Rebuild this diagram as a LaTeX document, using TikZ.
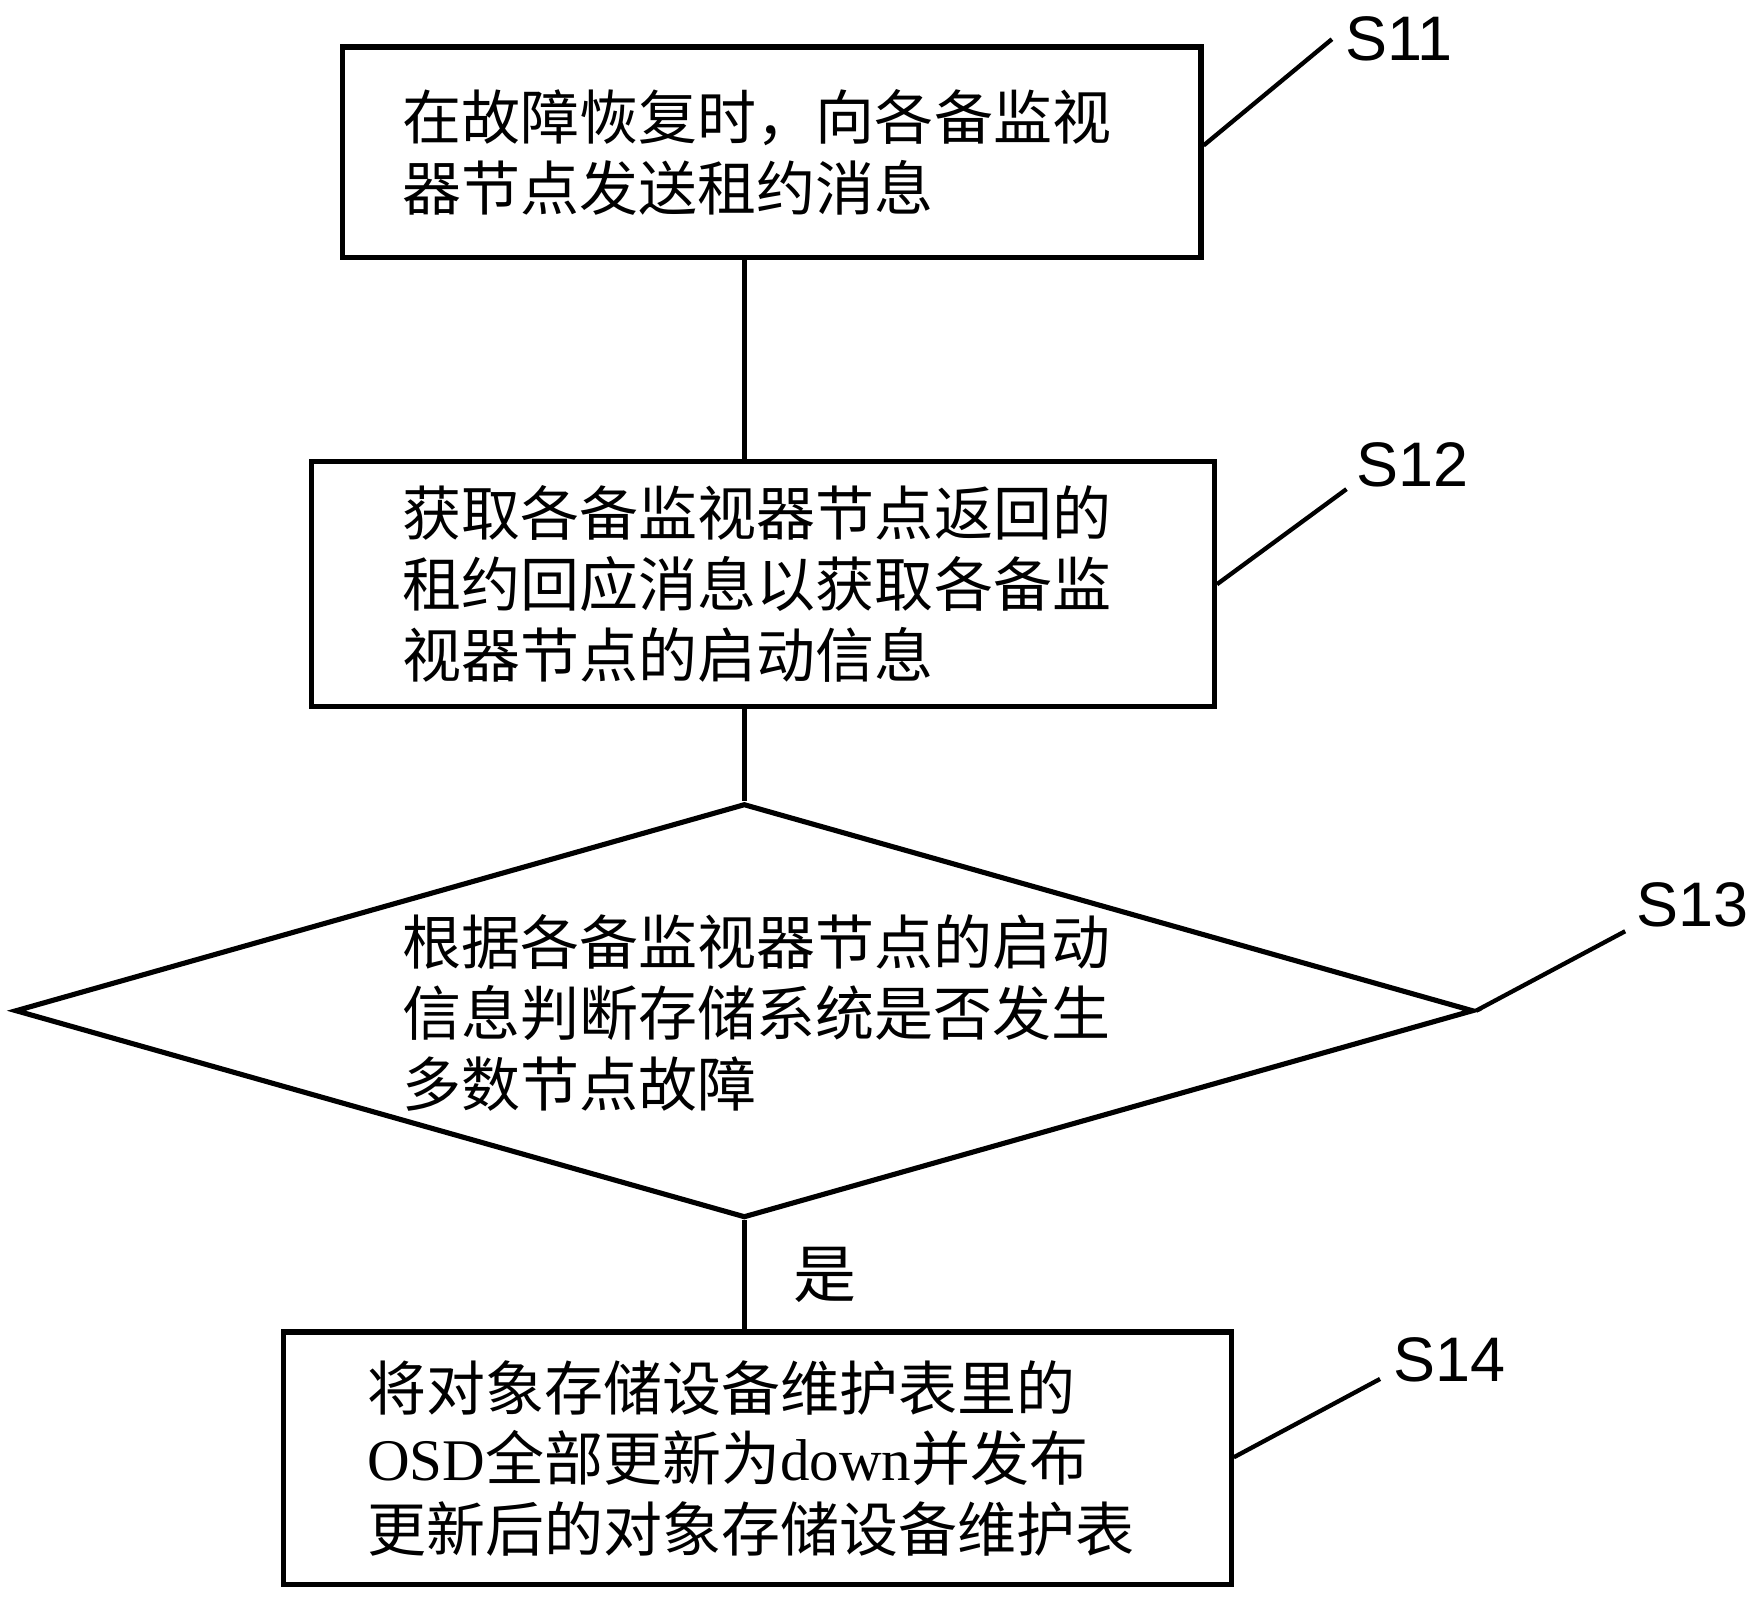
\documentclass[tikz,border=0pt]{standalone}
\usepackage{fontspec}
\setmainfont{Liberation Serif}
\setsansfont{Liberation Sans}
\newfontfamily\cjk{Noto Sans CJK SC}
\usetikzlibrary{shapes.geometric}
\tikzset{
    stepbox/.style = {draw, line width=1.3pt, inner sep=0pt, align=left, font=\cjk\fontsize{15pt}{18pt}\selectfont},
    lbl/.style = {font=\sffamily\fontsize{16pt}{16pt}\selectfont},
    lead/.style = {line width=1.1pt},
    link/.style = {line width=1.3pt}
}
\begin{document}
\begin{tikzpicture}
    \useasboundingbox (0, 0) rectangle (15.68, -14.31);

    % steps
    \node [stepbox, minimum width=7.67cm, minimum height=1.88cm, text width=6.59cm] (s11) at (6.895, -1.36)
        {在故障恢复时，向各备监视\\器节点发送租约消息};
    \node [stepbox, minimum width=8.07cm, minimum height=2.19cm, text width=6.43cm] (s12) at (6.815, -5.215)
        {获取各备监视器节点返回的\\租约回应消息以获取各备监\\视器节点的启动信息};
    \node [draw, diamond, line width=1.3pt, inner sep=0pt, shape aspect=3.52, minimum width=13.03cm, minimum height=3.7cm] (s13) at (6.65, -9.03) {};
    \node [stepbox, draw=none, text width=6.43cm] (s13t) at (6.81, -9.05)
        {根据各备监视器节点的启动\\信息判断存储系统是否发生\\多数节点故障};
    \node [stepbox, minimum width=8.47cm, minimum height=2.26cm, text width=6.97cm] (s14) at (6.765, -13.03)
        {将对象存储设备维护表里的\\{\rmfamily OSD}全部更新为{\rmfamily down}并发布\\更新后的对象存储设备维护表};

    % connectors
    \draw [link] (s13.north |- s11.south) -- (s13.north |- s12.north);
    \draw [link] (s13.north |- s12.south) -- (s13.north);
    \draw [link] (s13.south) -- (s13.south |- s14.north) node [midway, right=0.3cm, font=\cjk\fontsize{16pt}{16pt}\selectfont] (yes) {是};

    % step labels
    \node [lbl] (l11) at (12.5, -0.35) {S11};
    \node [lbl] (l12) at (12.62, -4.15) {S12};
    \node [lbl] (l13) at (15.12, -8.08) {S13};
    \node [lbl] (l14) at (12.95, -12.15) {S14};
    \coordinate (e11) at (11.9, -0.35);
    \coordinate (e12) at (12.03, -4.37);
    \coordinate (e13) at (14.52, -8.32);
    \coordinate (e14) at (12.33, -12.32);
    \draw [lead] (s11.east |- 0, -1.3) -- (e11);
    \draw [lead] (s12.east |- 0, -5.22) -- (e12);
    \draw [lead] (s13.east) -- (e13);
    \draw [lead] (s14.east |- 0, -13.02) -- (e14);
\end{tikzpicture}
\end{document}
